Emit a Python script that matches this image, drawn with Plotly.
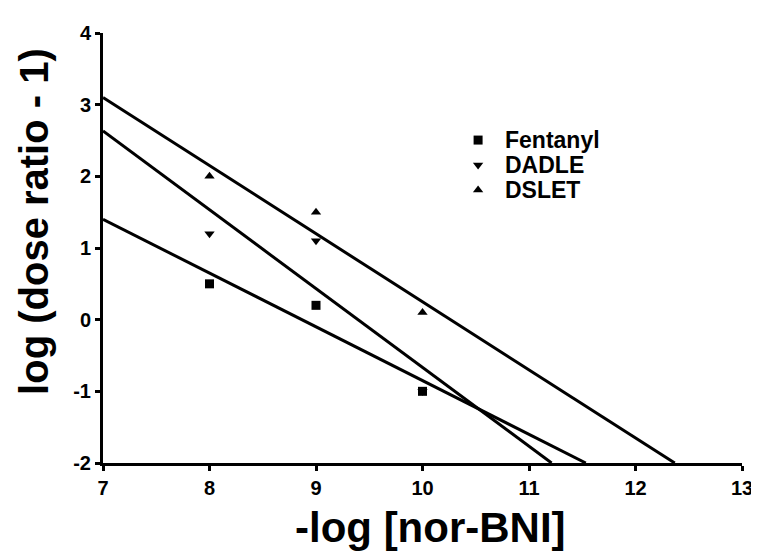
import numpy as np
import plotly.graph_objects as go

# Data
x_conc = [8, 9, 10]
fentanyl = [0.5, 0.2, -1.0]
dadle = [1.2, 1.1, -1.0]
dslet = [2.0, 1.5, 0.1]

series_names = ["Fentanyl", "DADLE", "DSLET"]
series_values = [fentanyl, dadle, dslet]
series_symbols = ["square", "triangle-down", "triangle-up"]

x_ticks = [7, 8, 9, 10, 11, 12, 13]
y_ticks = [-2, -1, 0, 1, 2, 3, 4]
x_min, x_max = 7, 13
y_min, y_max = -2, 4

FONT = "Liberation Sans, Arial, Helvetica, sans-serif"

# legend placement (plot-area fractions)
LEG_MARK_X = 0.587
LEG_TEXT_X = 0.627
LEG_Y = [0.751, 0.693, 0.635]

fig = go.Figure()

# Regression lines (least squares through each series), from x=7 down to y=-2
for name, vals in zip(series_names, series_values):
    slope, intercept = np.polyfit(x_conc, vals, 1)
    x_end = (y_min - intercept) / slope
    xs = np.array([x_min, min(x_end, x_max)])
    fig.add_trace(go.Scatter(
        x=xs, y=slope * xs + intercept, mode="lines",
        line=dict(color="black", width=3), showlegend=False,
        hoverinfo="skip"))

for name, vals, sym in zip(series_names, series_values, series_symbols):
    fig.add_trace(go.Scatter(
        x=x_conc, y=vals, mode="markers", name=name, showlegend=False,
        marker=dict(symbol=sym, size=9, color="black"),
        cliponaxis=False))

# Custom legend: symbols on an overlay axis spanning the plot area, labels as text
fig.add_trace(go.Scatter(
    x=[LEG_MARK_X] * 3, y=LEG_Y, mode="markers", xaxis="x2", yaxis="y2",
    marker=dict(symbol=series_symbols, size=9, color="black"),
    showlegend=False, hoverinfo="skip"))
for name, ly in zip(series_names, LEG_Y):
    fig.add_annotation(x=LEG_TEXT_X, y=ly, xref="paper", yref="paper",
                       text="<b>%s</b>" % name, showarrow=False,
                       xanchor="left", yanchor="middle", borderpad=0,
                       font=dict(family=FONT, size=23, color="black"))

# axis titles as text
fig.add_annotation(x=-0.108, y=0.563, xref="paper", yref="paper",
                   text="<b>log (dose ratio - 1)</b>", showarrow=False,
                   textangle=-90, xanchor="center", yanchor="middle",
                   borderpad=0,
                   font=dict(family=FONT, size=40, color="black"))
fig.add_annotation(x=0.512, y=-0.149, xref="paper", yref="paper",
                   text="<b>-log [nor-BNI]</b>", showarrow=False,
                   xanchor="center", yanchor="middle",
                   font=dict(family=FONT, size=42, color="black"))

axis_common = dict(
    showline=True, linecolor="black", linewidth=3,
    ticks="outside", ticklen=5, tickwidth=2.5, tickcolor="black",
    showgrid=False, zeroline=False, automargin=False,
    tickfont=dict(family=FONT, size=20, color="black", weight="bold"),
)

fig.update_layout(
    width=751, height=552,
    margin=dict(l=95, r=17, t=25, b=97, autoexpand=False),
    paper_bgcolor="white", plot_bgcolor="white",
    font=dict(family=FONT, color="black"),
    showlegend=False,
    xaxis=dict(range=[x_min, x_max], tickvals=x_ticks,
               ticktext=[str(v) for v in x_ticks], **axis_common),
    yaxis=dict(range=[y_min, y_max], tickvals=y_ticks,
               ticktext=[str(v) for v in y_ticks], **axis_common),
    xaxis2=dict(range=[0, 1], overlaying="x", visible=False, fixedrange=True),
    yaxis2=dict(range=[0, 1], overlaying="y", visible=False, fixedrange=True),
)

fig.write_html("out.html")
